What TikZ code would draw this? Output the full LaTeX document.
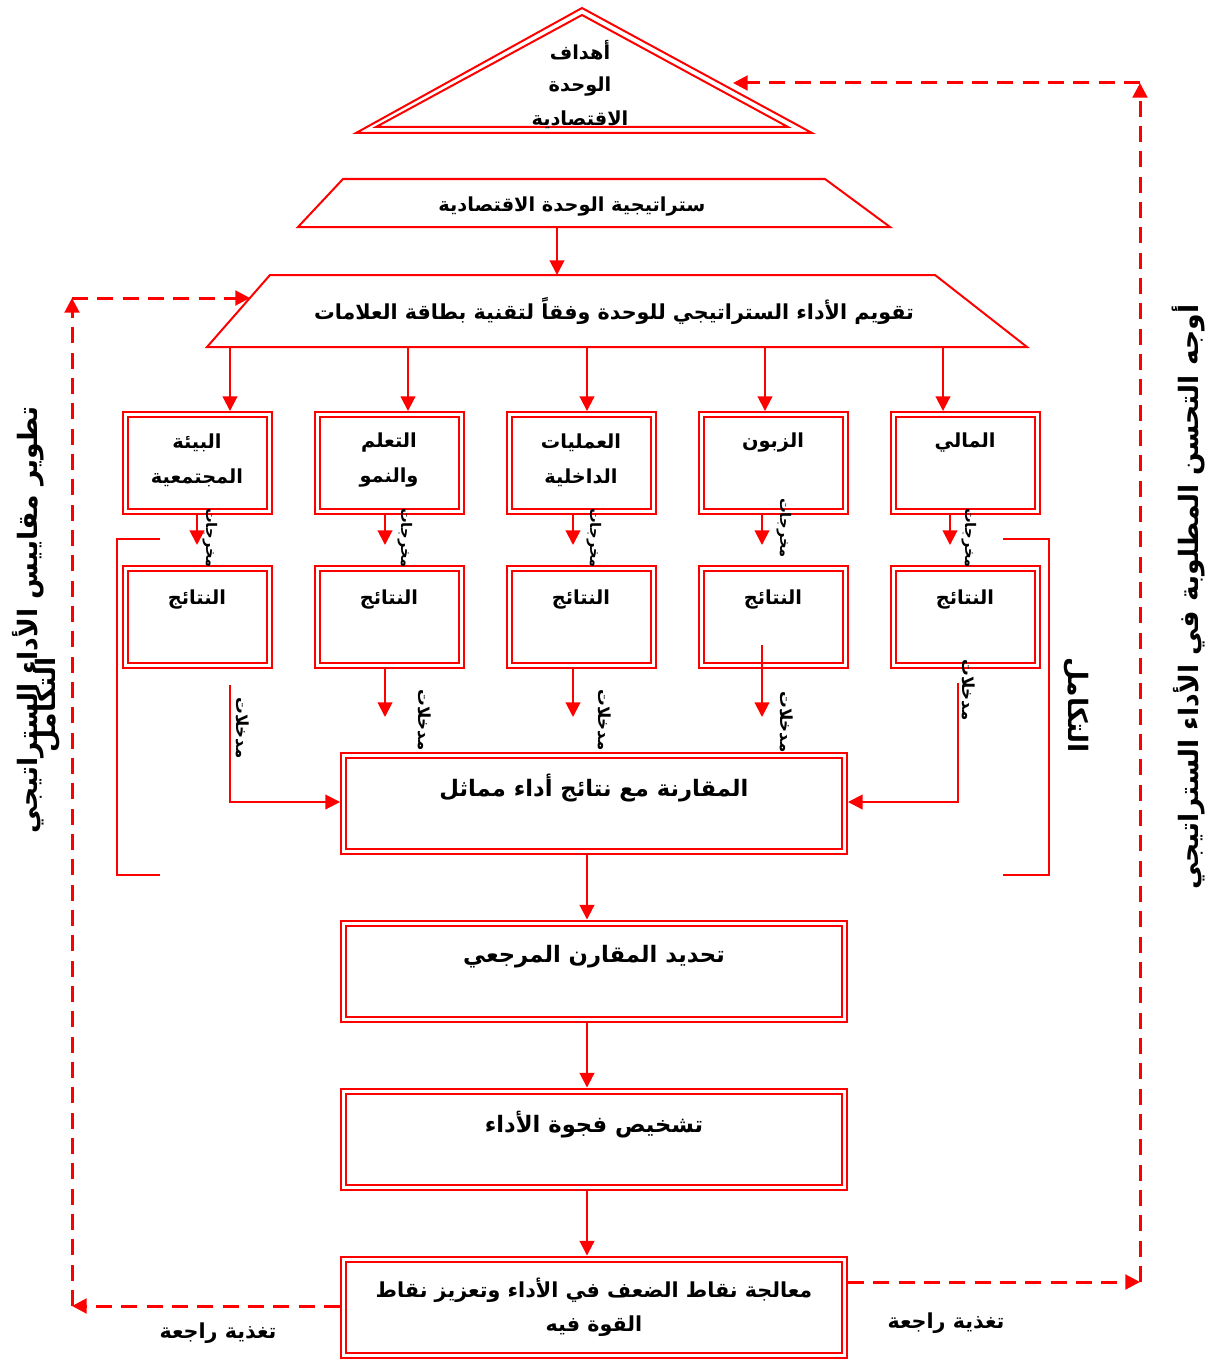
\documentclass[tikz,border=0pt]{standalone}
\usepackage{fontspec}
\newfontfamily\arfont[Script=Arabic]{DejaVu Sans}
\TeXXeTstate=1
\usetikzlibrary{arrows.meta}
\newcommand\artx[1]{\beginR #1\endR}
\begin{document}
\begin{tikzpicture}[x=0.75pt,y=-0.75pt,
  shapeline/.style={draw=red, line width=1.5pt},
  brk/.style={draw=red, line width=1.2pt},
  dbox/.style={draw=red, line width=1.5pt, double=white, double distance=2.25pt,
    minimum width=108pt, minimum height=72.75pt, inner sep=0pt, outer sep=2.6pt},
  bigbox/.style={dbox, minimum width=375.75pt, minimum height=72pt},
  arr/.style={draw=red, line width=1.5pt, -{Triangle[length=11pt,width=11pt]}},
  darr/.style={draw=red, line width=2.25pt, dash pattern=on 12pt off 7pt,
    -{Triangle[length=11pt,width=11pt]}},
  txt/.style={font=\arfont\bfseries\fontsize{14.5}{17}\selectfont, inner sep=0pt, align=center},
  txtb/.style={txt, font=\arfont\bfseries\fontsize{17}{20}\selectfont},
  txtm/.style={txt, font=\arfont\bfseries\fontsize{15.5}{18}\selectfont},
  lblo/.style={font=\arfont\bfseries\fontsize{11}{13}\selectfont, inner sep=0pt},
  lbli/.style={font=\arfont\bfseries\fontsize{12.5}{14}\selectfont, inner sep=0pt},
  side/.style={font=\arfont\bfseries\fontsize{20}{24}\selectfont, inner sep=0pt},
]
\useasboundingbox (0,0) rectangle (1220,1359);

% goal triangle
\draw[shapeline] (582,8) -- (812,133) -- (356,133) -- cycle;
\draw[shapeline] (582,15) -- (788,127) -- (376,127) -- cycle;
\node[txt] (g1) at (580,50) {\artx{أهداف}};
\node[txt] (g2) at (580,87) {\artx{الوحدة}};
\node[txt] (g3) at (580,120) {\artx{الاقتصادية}};
\coordinate (gin) at (733,83);

% strategy trapezoid
\draw[shapeline] (343,179) -- (825,179) -- (890,227) -- (298,227) -- cycle;
\node[txt] (strat) at (572,207) {\artx{ستراتيجية الوحدة الاقتصادية}};
\coordinate (t1b) at (557,227);

% evaluation trapezoid
\draw[shapeline] (270,275) -- (935,275) -- (1027,347) -- (207,347) -- cycle;
\node[txtm] (eval) at (614,311) {\artx{تقويم الأداء الستراتيجي للوحدة وفقاً لتقنية بطاقة العلامات}};
\coordinate (t2t) at (557,275);
\coordinate (t2l) at (250,298);
\coordinate (e1) at (230,347);
\coordinate (e2) at (408,347);
\coordinate (e3) at (587,347);
\coordinate (e4) at (765,347);
\coordinate (e5) at (943,347);
\draw[arr] (t1b) -- (t2t);

% perspective boxes
\node[dbox] (b1) at (197.5,463) {};
\node[dbox] (b2) at (389.5,463) {};
\node[dbox] (b3) at (581.5,463) {};
\node[dbox] (b4) at (773.5,463) {};
\node[dbox] (b5) at (965.5,463) {};
\node[txt] (b1a) at (197,443) {\artx{البيئة}};
\node[txt] (b1b) at (197,478) {\artx{المجتمعية}};
\node[txt] (b2a) at (389,443) {\artx{التعلم}};
\node[txt] (b2b) at (389,478) {\artx{والنمو}};
\node[txt] (b3a) at (581,443) {\artx{العمليات}};
\node[txt] (b3b) at (581,478) {\artx{الداخلية}};
\node[txt] (b4a) at (773,443) {\artx{الزبون}};
\node[txt] (b5a) at (965,443) {\artx{المالي}};
\draw[arr] (e1) -- (e1 |- b1.north);
\draw[arr] (e2) -- (e2 |- b2.north);
\draw[arr] (e3) -- (e3 |- b3.north);
\draw[arr] (e4) -- (e4 |- b4.north);
\draw[arr] (e5) -- (e5 |- b5.north);

% results boxes
\node[dbox] (r1) at (197.5,617) {};
\node[dbox] (r2) at (389.5,617) {};
\node[dbox] (r3) at (581.5,617) {};
\node[dbox] (r4) at (773.5,617) {};
\node[dbox] (r5) at (965.5,617) {};
\node[txt] (r1a) at (197,600) {\artx{النتائج}};
\node[txt] (r2a) at (389,600) {\artx{النتائج}};
\node[txt] (r3a) at (581,600) {\artx{النتائج}};
\node[txt] (r4a) at (773,600) {\artx{النتائج}};
\node[txt] (r5a) at (965,600) {\artx{النتائج}};

% short arrows between rows
\coordinate (s1) at (197,545);
\coordinate (s2) at (385,545);
\coordinate (s3) at (573,545);
\coordinate (s4) at (762,545);
\coordinate (s5) at (950,545);
\draw[arr] (s1 |- b1.south) -- (s1);
\draw[arr] (s2 |- b2.south) -- (s2);
\draw[arr] (s3 |- b3.south) -- (s3);
\draw[arr] (s4 |- b4.south) -- (s4);
\draw[arr] (s5 |- b5.south) -- (s5);
\node[lblo, rotate=-90] (o1) at (210,538) {\artx{مخرجات}};
\node[lblo, rotate=-90] (o2) at (405,538) {\artx{مخرجات}};
\node[lblo, rotate=-90] (o3) at (594,538) {\artx{مخرجات}};
\node[lblo, rotate=-90] (o4) at (784,528) {\artx{مخرجات}};
\node[lblo, rotate=-90] (o5) at (969,538) {\artx{مخرجات}};

% comparison box
\node[bigbox] (cmp) at (594,803.5) {};
\node[txtb] (cmpt) at (594,788) {\artx{المقارنة مع نتائج أداء مماثل}};

\coordinate (d2) at (385,717);
\coordinate (d3) at (573,717);
\coordinate (d4s) at (762,645);
\coordinate (d4) at (762,717);
\coordinate (d1s) at (230,685);
\coordinate (d1c) at (230,802);
\coordinate (d5s) at (958,683);
\coordinate (d5c) at (958,802);
\draw[arr] (d2 |- r2.south) -- (d2);
\draw[arr] (d3 |- r3.south) -- (d3);
\draw[arr] (d4s) -- (d4);
\draw[arr] (d1s) -- (d1c) -- (d1c -| cmp.west);
\draw[arr] (d5s) -- (d5c) -- (d5c -| cmp.east);
\node[lbli, rotate=-90] (i1) at (243,728) {\artx{مدخلات}};
\node[lbli, rotate=-90] (i2) at (425,720) {\artx{مدخلات}};
\node[lbli, rotate=-90] (i3) at (605,720) {\artx{مدخلات}};
\node[lbli, rotate=-90] (i4) at (787,722) {\artx{مدخلات}};
\node[lbli, rotate=-90] (i5) at (969,690) {\artx{مدخلات}};

% integration brackets
\draw[brk] (160,539) -- (117,539) -- (117,875) -- (160,875);
\draw[brk] (1003,539) -- (1049,539) -- (1049,875) -- (1003,875);
\node[side, rotate=-90] (int1) at (1076,705) {\artx{التكامل}};

% lower chain
\node[bigbox] (ref) at (594,971) {};
\node[txtb] (reft) at (594,957) {\artx{تحديد المقارن المرجعي}};
\node[bigbox] (gap) at (594,1139) {};
\node[txtb] (gapt) at (594,1125) {\artx{تشخيص فجوة الأداء}};
\node[bigbox] (fix) at (594,1307) {};
\node[txtm] (fixa) at (594,1290) {\artx{معالجة نقاط الضعف في الأداء وتعزيز نقاط}};
\node[txtm] (fixb) at (594,1326) {\artx{القوة فيه}};
\draw[arr] ([xshift=-5.25pt]cmp.south) -- ([xshift=-5.25pt]ref.north);
\draw[arr] ([xshift=-5.25pt]ref.south) -- ([xshift=-5.25pt]gap.north);
\draw[arr] ([xshift=-5.25pt]gap.south) -- ([xshift=-5.25pt]fix.north);

% feedback loops
\coordinate (cl1) at (72,1306);
\coordinate (cl2) at (72,298);
\coordinate (cr1) at (1140,1282);
\coordinate (cr2) at (1140,83);
\draw[darr] (cl1 -| fix.west) -- (cl1);
\draw[darr] (cl1) -- (cl2);
\draw[darr] (cl2) -- (t2l);
\draw[darr] (cr1 -| fix.east) -- (cr1);
\draw[darr] (cr1) -- (cr2);
\draw[darr] (cr2) -- (gin);
\node[txtm] (fb1) at (218,1333) {\artx{تغذية راجعة}};
\node[txtm] (fb2) at (946,1323) {\artx{تغذية راجعة}};

% side labels
\node[side, rotate=90] (devl) at (28,620) {\artx{تطوير مقاييس الأداء الستراتيجي}};
\node[side, rotate=90] (int2) at (48,705) {\artx{التكامل}};
\node[side, rotate=90] (imp) at (1188,597) {\artx{أوجه التحسن المطلوبة في الأداء الستراتيجي}};
\end{tikzpicture}
\end{document}
